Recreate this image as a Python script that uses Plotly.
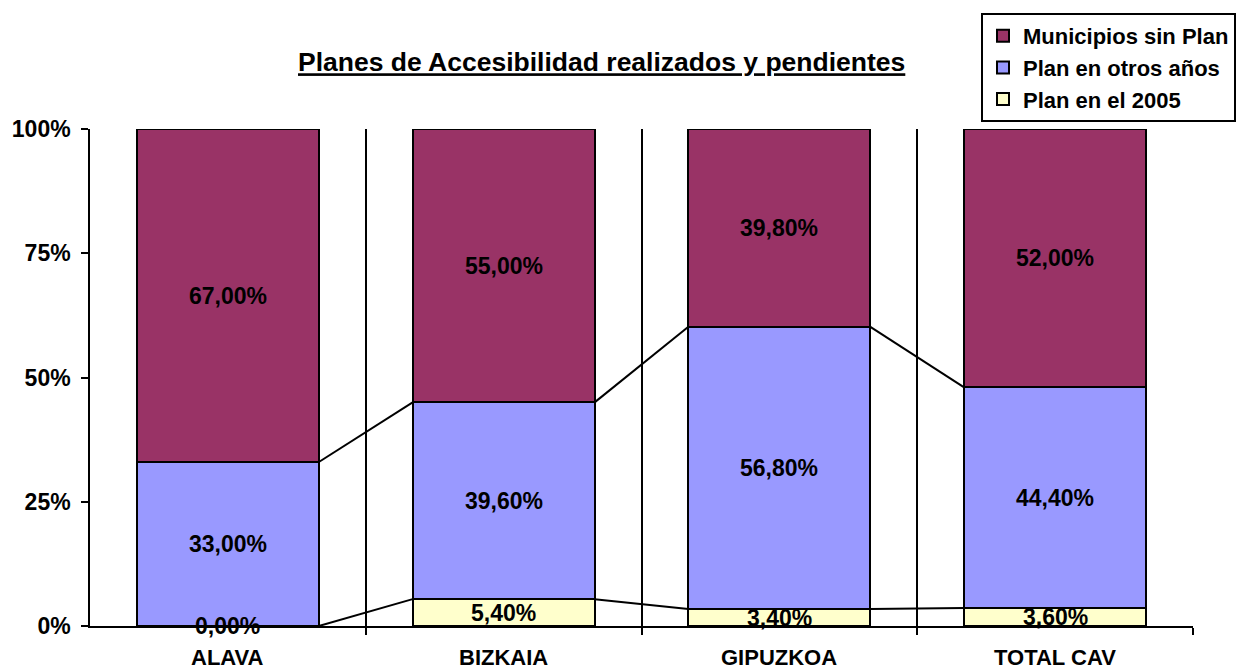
import plotly.graph_objects as go

categories = ["ALAVA", "BIZKAIA", "GIPUZKOA", "TOTAL CAV"]
plan_2005 = [0.0, 5.4, 3.4, 3.6]
plan_otros = [33.0, 39.6, 56.8, 44.4]
sin_plan = [67.0, 55.0, 39.8, 52.0]
y_ticks = [0, 25, 50, 75, 100]
y_tick_labels = ["0%", "25%", "50%", "75%", "100%"]

series = [
    ("Plan en el 2005", plan_2005, "#FFFFCC"),
    ("Plan en otros años", plan_otros, "#9999FF"),
    ("Municipios sin Plan", sin_plan, "#993366"),
]

FONT = "Liberation Sans, Arial, sans-serif"
FS = 23
BW = 0.66
xs = list(range(len(categories)))

fig = go.Figure()
for name, vals, col in series:
    fig.add_trace(go.Bar(
        x=xs, y=vals, name=name, width=BW,
        marker=dict(color=col, line=dict(color="black", width=2)),
        legendgroup=name, hoverinfo="skip",
    ))

# series lines between bars
cum = [0.0] * len(categories)
lx, ly = [], []
ann = []
for si, (name, vals, col) in enumerate(series):
    base = cum[:]
    cum = [c + v for c, v in zip(cum, vals)]
    for i, v in enumerate(vals):
        ann.append(dict(
            x=i, y=base[i] + v / 2, xref="x", yref="y",
            text=f"{v:.2f}".replace(".", ",") + "%", showarrow=False,
            font=dict(family=FONT, size=FS, color="black", weight="bold"),
        ))
    if si < len(series) - 1:
        for i in range(len(categories) - 1):
            lx += [i + BW / 2, i + 1 - BW / 2, None]
            ly += [cum[i], cum[i + 1], None]

fig.add_trace(go.Scatter(x=lx, y=ly, mode="lines", line=dict(color="black", width=2),
                         showlegend=False, hoverinfo="skip"))

for i, c in enumerate(categories):
    ann.append(dict(
        x=i, y=0, xref="x", yref="paper", yanchor="middle", yshift=-31,
        text=c, showarrow=False,
        font=dict(family=FONT, size=22, color="black", weight="bold"),
    ))

fig.update_layout(
    barmode="stack",
    width=1238, height=670,
    margin=dict(l=90, r=45, t=129, b=44, autoexpand=False),
    paper_bgcolor="white", plot_bgcolor="white",
    title=dict(
        text="<u>Planes de Accesibilidad realizados y pendientes</u>",
        x=0.486, y=1 - 62 / 670, xanchor="center", yanchor="middle",
        font=dict(family=FONT, size=26.5, color="black", weight="bold"),
    ),
    legend=dict(
        traceorder="reversed", xref="container", yref="container",
        x=1236 / 1238, xanchor="right", y=1 - 13 / 670, yanchor="top",
        bordercolor="black", borderwidth=2, bgcolor="white",
        font=dict(family=FONT, size=22, color="black", weight="bold"),
        tracegroupgap=4, itemwidth=30,
    ),
    xaxis=dict(
        range=[-0.5, len(categories) - 0.5],
        tickvals=[i + 0.5 for i in range(len(categories))],
        showticklabels=False, ticks="outside", ticklen=7, tickwidth=1.5, tickcolor="black",
        showgrid=True, gridcolor="black", gridwidth=1.5,
        showline=True, linecolor="black", linewidth=1.5, zeroline=False,
    ),
    yaxis=dict(
        range=[0, 100], tickvals=y_ticks, ticktext=y_tick_labels,
        ticks="outside", ticklen=7, tickwidth=1.5, tickcolor="black",
        ticklabelstandoff=6,
        showgrid=False, showline=True, linecolor="black", linewidth=1.5, zeroline=False,
        tickfont=dict(family=FONT, size=FS, color="black", weight="bold"),
    ),
    annotations=ann,
)

fig.write_html("out.html", config={"displayModeBar": False},
               post_script="document.body.style.margin='0';document.body.style.overflow='hidden';")
